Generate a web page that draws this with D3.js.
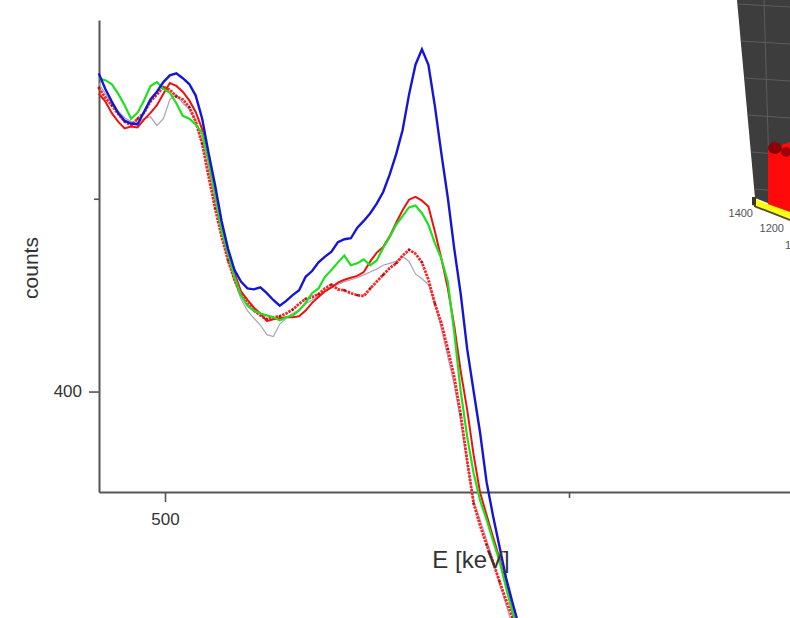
<!DOCTYPE html>
<html>
<head>
<meta charset="utf-8">
<script src="https://cdn.jsdelivr.net/npm/d3@7"></script>
<style>
  body { margin: 0; background: #fff; }
  svg { display: block; font-family: "Liberation Sans", Arial, sans-serif; }
</style>
</head>
<body>
<script>
// channel energies (keV), shared by all spectra
const energy = [418, 426, 434, 442, 450, 458, 466, 474, 482, 490, 498, 506, 514, 522, 530, 538, 546, 554, 562, 570,
  578, 586, 594, 602, 610, 618, 626, 634, 642, 650, 658, 666, 674, 682, 690, 698, 706, 714, 722, 730,
  738, 746, 754, 762, 770, 778, 786, 794, 802, 810, 818, 826, 834, 842, 850, 858, 866, 874, 882, 890,
  898, 906, 914, 922, 930, 938];

const blueCounts = [730, 714, 701, 689, 681, 678, 677, 690, 703, 711, 721, 728, 730, 725, 719, 707, 683, 647, 614, 577,
  548, 526, 514, 507, 506, 508, 502, 495, 489, 494, 500, 505, 519, 525, 534, 540, 545, 555, 558, 559,
  570, 577, 585, 595, 607, 625, 646, 671, 708, 739, 755, 739, 696, 647, 601, 548, 501, 444, 400, 357,
  306, 271, 239, 207, 181, 157];

const greenCounts = [725, 723, 719, 709, 697, 683, 689, 702, 717, 721, 714, 710, 699, 686, 683, 677, 668, 639, 604, 567,
  543, 519, 500, 489, 484, 481, 479, 477, 474, 477, 479, 484, 492, 502, 507, 519, 526, 534, 541, 531,
  533, 537, 531, 536, 549, 560, 573, 582, 591, 593, 585, 573, 554, 538, 514, 461, 400, 353, 315, 287,
  267, 245, 224, 197, 172, 147];

const redCounts = [709, 701, 689, 680, 673, 675, 674, 682, 689, 697, 709, 720, 717, 711, 702, 690, 672, 639, 605, 574,
  547, 523, 504, 495, 487, 481, 473, 475, 476, 477, 477, 478, 484, 492, 498, 504, 508, 513, 516, 518,
  520, 524, 535, 544, 550, 561, 575, 588, 599, 602, 598, 592, 566, 538, 507, 468, 421, 381, 334, 295,
  272, 249, 227, 199, 172, 147];

const redDotCounts = [715, 705, 697, 688, 680, 676, 683, 689, 701, 708, 716, 713, 706, 703, 695, 680, 657, 623, 590, 561,
  536, 516, 501, 491, 484, 479, 475, 477, 478, 481, 485, 491, 496, 498, 501, 507, 511, 506, 505, 502,
  500, 499, 507, 514, 521, 528, 533, 541, 547, 543, 534, 516, 491, 471, 444, 415, 376, 328, 284, 261,
  241, 223, 203, 184, 165, 142];

const greyCounts = [720, 709, 699, 691, 684, 680, 679, 683, 685, 676, 683, 703, 708, 699, 693, 681, 659, 629, 595, 564,
  536, 514, 496, 484, 476, 469, 459, 457, 470, 476, 481, 485, 491, 495, 499, 504, 508, 511, 514, 516,
  518, 521, 524, 527, 531, 533, 535, 540, 535, 522, 517, 511, 492, 465, 436, 407, 369, 326, 286, 267,
  246, 225, 200, 179, 157, 142];

const xMajor = [500], xMinor = [1000];
const yMajor = [400], yMinor = [600];
const insetLabels = ['1400', '1200', '1'];

const width = 790, height = 618;

const svg = d3.select('body').append('svg')
  .attr('width', width)
  .attr('height', height);

const x = d3.scaleLinear().domain([418.3, 1273.5]).range([99, 790]);
const y = d3.scaleLinear().domain([295.8, 785.4]).range([492, 20]);

// --- 3D inset in the top right corner (decoration) ---
const inset = svg.append('g');
inset.append('path')
  .attr('d', 'M737,0 L790,0 L790,212 L755,198 Z')
  .attr('fill', '#3d3d3d');
// grid on the back plane
for (const gy of [4, 41, 78, 115, 152, 189]) {
  const xl = 737 + (gy / 198) * 18;
  inset.append('line')
    .attr('x1', xl).attr('y1', gy).attr('x2', 790).attr('y2', gy + 3)
    .attr('stroke', '#5c5c5c').attr('stroke-width', 1);
}
inset.append('line')
  .attr('x1', 764).attr('y1', 0).attr('x2', 770).attr('y2', 203)
  .attr('stroke', '#5c5c5c').attr('stroke-width', 1);
// red block
inset.append('path')
  .attr('d', 'M768,150 L790,142 L790,214 L768,206 Z')
  .attr('fill', '#ff0a0a');
inset.append('ellipse').attr('cx', 775).attr('cy', 148).attr('rx', 7).attr('ry', 6).attr('fill', '#8c0008');
inset.append('ellipse').attr('cx', 786).attr('cy', 152).attr('rx', 5).attr('ry', 5).attr('fill', '#a0000a');
// yellow base
inset.append('path')
  .attr('d', 'M754,199 L790,212 L790,219 L754,205 Z')
  .attr('fill', '#ffff10');
inset.append('path')
  .attr('d', 'M754,205 L790,219 L790,221 L754,207 Z')
  .attr('fill', '#505018');
inset.append('path')
  .attr('d', 'M752,197 L756,197 L756,206 L752,205 Z')
  .attr('fill', '#3a3a1a');
inset.selectAll('text.lab')
  .data(insetLabels)
  .join('text')
  .attr('class', 'lab')
  .attr('x', (d, i) => [753, 784, 791][i])
  .attr('y', (d, i) => [217, 232, 249][i])
  .attr('text-anchor', 'end')
  .attr('font-size', 11)
  .attr('fill', '#555')
  .text(d => d);

// --- axes ---
const axisColor = '#555';
const styleAxis = g => {
  g.selectAll('.domain').attr('stroke', axisColor).attr('stroke-width', 2);
  g.selectAll('.tick line').attr('stroke', axisColor).attr('stroke-width', 1.6);
  g.selectAll('.tick text').attr('fill', '#333').attr('font-size', 17)
    .attr('font-family', '"Liberation Sans", Arial, sans-serif');
};

svg.append('g')
  .attr('transform', 'translate(99,0)')
  .call(d3.axisLeft(y).tickValues(yMajor).tickSize(10).tickPadding(7).tickSizeOuter(0))
  .call(styleAxis);
svg.append('g')
  .attr('transform', 'translate(99,0)')
  .call(d3.axisLeft(y).tickValues(yMinor).tickSize(5).tickFormat('').tickSizeOuter(0))
  .call(g => g.select('.domain').remove())
  .call(styleAxis);

svg.append('g')
  .attr('transform', 'translate(0,492)')
  .call(d3.axisBottom(x).tickValues(xMajor).tickSize(10).tickPadding(11).tickSizeOuter(0))
  .call(styleAxis);
svg.append('g')
  .attr('transform', 'translate(0,492)')
  .call(d3.axisBottom(x).tickValues(xMinor).tickSize(6).tickFormat('').tickSizeOuter(0))
  .call(g => g.select('.domain').remove())
  .call(styleAxis);

// --- spectra ---
const line = vals => d3.line()
  .x((d, i) => x(energy[i]))
  .y(d => y(d))(vals);

svg.append('path').attr('d', line(greyCounts))
  .attr('fill', 'none').attr('stroke', '#aaa2bc').attr('stroke-width', 1.2);

svg.append('path').attr('d', line(redDotCounts))
  .attr('fill', 'none').attr('stroke', '#ff2222').attr('stroke-width', 2.8)
  .attr('stroke-dasharray', '2.5,1');
svg.append('g').selectAll('circle')
  .data(redDotCounts.filter((d, i) => i % 2 === 0))
  .join('circle')
  .attr('cx', (d, i) => x(energy[i * 2]))
  .attr('cy', d => y(d))
  .attr('r', 1.2)
  .attr('fill', '#7a2020');

svg.append('path').attr('d', line(redCounts))
  .attr('fill', 'none').attr('stroke', '#ee1111').attr('stroke-width', 2);

svg.append('path').attr('d', line(greenCounts))
  .attr('fill', 'none').attr('stroke', '#1fe01f').attr('stroke-width', 2.2);

svg.append('path').attr('d', line(blueCounts))
  .attr('fill', 'none').attr('stroke', '#1515d8').attr('stroke-width', 2.4);

// --- axis titles ---
svg.append('text')
  .attr('x', 471).attr('y', 568)
  .attr('text-anchor', 'middle')
  .attr('font-size', 24)
  .attr('fill', '#333')
  .text('E [keV]');

svg.append('text')
  .attr('transform', 'translate(38,268) rotate(-90)')
  .attr('text-anchor', 'middle')
  .attr('font-size', 21)
  .attr('fill', '#333')
  .text('counts');
</script>
</body>
</html>
